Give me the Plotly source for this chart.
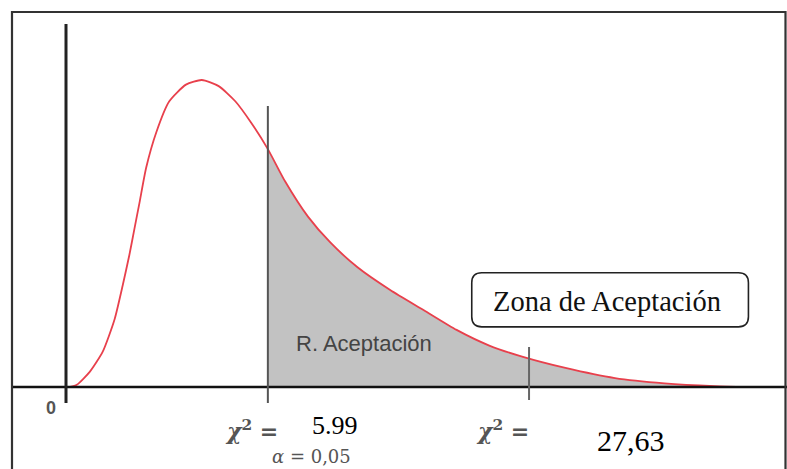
import plotly.graph_objects as go

# Curve readings (schematic chi-square density), x in chi-square units, y relative density
curve_x = [0.12, 0.32, 0.71, 1.09, 1.44, 1.68, 1.88, 2.03, 2.18, 2.38, 2.68, 3.06, 3.56,
           4.03, 4.53, 5.03, 5.50, 5.99, 6.50, 7.18, 7.85, 8.65, 9.62, 10.62, 11.59,
           12.56, 13.56, 14.82, 16.29, 17.76, 19.24, 20.26]
curve_y = [0.000, 0.007, 0.050, 0.115, 0.220, 0.330, 0.430, 0.515, 0.600, 0.715, 0.830,
           0.930, 0.985, 1.000, 0.980, 0.930, 0.860, 0.775, 0.670, 0.555, 0.470, 0.390,
           0.316, 0.250, 0.186, 0.135, 0.098, 0.062, 0.029, 0.012, 0.003, 0.000]

critical_value = 5.99
critical_label = "5.99"
alpha_label = "<i>α</i> = 0,05"
stat_marker_x = 13.74
stat_label = "27,63"
region_label = "R. Aceptación"
box_label = "Zona de Aceptación"

W, H = 787, 469
SX, SY = 33.7, 307.0
xr = [-66 / SX, (W - 66) / SX]
yr = [(387 - H) / SY, 387 / SY]

shade_x = [x for x in curve_x if x >= critical_value]
shade_y = [y for x, y in zip(curve_x, curve_y) if x >= critical_value]

fig = go.Figure()
fig.add_trace(go.Scatter(x=shade_x, y=shade_y, fill="tozeroy", fillcolor="#c2c2c2",
                         line=dict(width=0, shape="spline", smoothing=0.6), mode="lines", hoverinfo="skip"))
fig.add_trace(go.Scatter(x=curve_x, y=curve_y, mode="lines",
                         line=dict(color="#e8404c", width=1.8, shape="spline", smoothing=0.6),
                         hoverinfo="skip"))

shapes = []
# axes
shapes.append(dict(type="line", x0=xr[0] + 12 / SX, x1=xr[1], y0=0, y1=0,
                   line=dict(color="#111", width=2.6)))
shapes.append(dict(type="line", x0=0, x1=0, y0=-16 / SY, y1=363 / SY,
                   line=dict(color="#222", width=3)))
# critical lines
shapes.append(dict(type="line", x0=critical_value, x1=critical_value, y0=-16 / SY, y1=281 / SY,
                   line=dict(color="#555", width=2)))
shapes.append(dict(type="line", x0=stat_marker_x, x1=stat_marker_x, y0=-13 / SY, y1=40 / SY,
                   line=dict(color="#666", width=2)))
# border
shapes.append(dict(type="rect", xref="paper", yref="paper", x0=12 / W, x1=785.5 / W,
                   y0=-0.05, y1=1 - 12 / H, line=dict(color="#333", width=2.2)))
# rounded box
bx0, bx1, by0, by1 = 12.04, 20.25, 0.196, 0.372
rx, ry = 10 / SX, 10 / SY
path = (f"M {bx0+rx},{by1} L {bx1-rx},{by1} Q {bx1},{by1} {bx1},{by1-ry} "
        f"L {bx1},{by0+ry} Q {bx1},{by0} {bx1-rx},{by0} L {bx0+rx},{by0} "
        f"Q {bx0},{by0} {bx0},{by0+ry} L {bx0},{by1-ry} Q {bx0},{by1} {bx0+rx},{by1} Z")
shapes.append(dict(type="path", path=path, line=dict(color="#222", width=1.6), fillcolor="white"))

ann = []
def add(text, x, y, size, color, family):
    ann.append(dict(text=text, x=x, y=y, xref="x", yref="y", showarrow=False,
                    font=dict(size=size, color=color, family=family),
                    xanchor="center", yanchor="middle"))

add("<b>0</b>", -0.445, -0.068, 18, "#555", "Liberation Sans")
add("<b><i>χ</i><sup>2</sup> =</b>", 5.49, -0.140, 22, "#555", "DejaVu Serif")
add(critical_label, 7.97, -0.127, 26, "#000", "Liberation Serif")
add(alpha_label, 7.27, -0.226, 18, "#555", "DejaVu Serif")
add("<b><i>χ</i><sup>2</sup> =</b>", 12.94, -0.140, 22, "#555", "DejaVu Serif")
add(stat_label, 16.77, -0.173, 30, "#000", "Liberation Serif")
add(region_label, 8.84, 0.143, 22, "#444", "Liberation Sans")
add(box_label, 16.04, 0.277, 28.5, "#111", "Liberation Serif")

fig.update_layout(width=W, height=H, margin=dict(l=0, r=0, t=0, b=0),
                  paper_bgcolor="white", plot_bgcolor="white", showlegend=False,
                  shapes=shapes, annotations=ann,
                  xaxis=dict(range=xr, visible=False, fixedrange=True),
                  yaxis=dict(range=yr, visible=False, fixedrange=True))
fig.write_html("out.html", config={"displayModeBar": False},
               post_script="document.body.style.margin='0';document.body.style.overflow='hidden';")
